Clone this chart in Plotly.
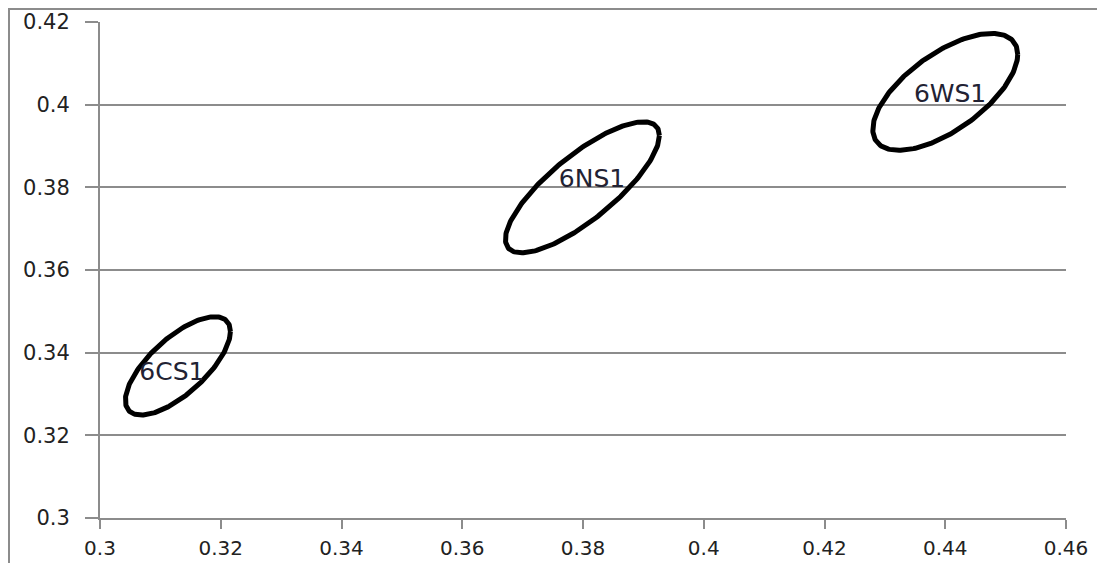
import numpy as np
import plotly.graph_objects as go

# Ellipse groups (data units): centre, half-extent in x and y, phase (tilt) cosine
names = ["6CS1", "6NS1", "6WS1"]
center_x = [0.3129, 0.3799, 0.4400]
center_y = [0.3368, 0.3800, 0.4031]
half_x = [0.0087, 0.01275, 0.0120]
half_y = [0.0119, 0.01585, 0.01415]
tilt_cos = [0.70, 0.79, 0.64]
label_x = [0.3119, 0.3815, 0.4408]
label_y = [0.3350, 0.3815, 0.4021]

x_ticks = [0.3, 0.32, 0.34, 0.36, 0.38, 0.4, 0.42, 0.44, 0.46]
x_tick_text = ["0.3", "0.32", "0.34", "0.36", "0.38", "0.4", "0.42", "0.44", "0.46"]
y_ticks = [0.3, 0.32, 0.34, 0.36, 0.38, 0.4, 0.42]
y_tick_text = ["0.3", "0.32", "0.34", "0.36", "0.38", "0.4", "0.42"]

fig = go.Figure()
t = np.linspace(0, 2 * np.pi, 240)
for n, cx, cy, wx, hy, c in zip(names, center_x, center_y, half_x, half_y, tilt_cos):
    phi = np.arccos(c)
    fig.add_trace(go.Scatter(
        x=cx + wx * np.cos(t), y=cy + hy * np.cos(t - phi),
        mode="lines", line=dict(color="black", width=5),
        hoverinfo="skip", showlegend=False, name=n))

fig.add_trace(go.Scatter(
    x=label_x, y=label_y, mode="text", text=names,
    textfont=dict(family="DejaVu Sans", size=25, color="#222233"),
    showlegend=False, hoverinfo="skip"))

fig.add_shape(type="rect", xref="paper", yref="paper",
              x0=-0.0942, x1=1.05, y0=-0.2, y1=1.026,
              line=dict(color="#8c8c8c", width=2), layer="below")

fig.update_layout(
    width=1089, height=555,
    margin=dict(l=92, r=31, t=14, b=45),
    paper_bgcolor="white", plot_bgcolor="white",
    font=dict(family="DejaVu Sans", size=21, color="#222222"),
    xaxis=dict(range=[0.3, 0.46], tickvals=x_ticks, ticktext=x_tick_text,
               showgrid=False, zeroline=False, showline=True,
               linecolor="#8c8c8c", linewidth=2, ticks="outside",
               ticklen=9, tickwidth=2, tickcolor="#8c8c8c",
               ticklabelstandoff=2, automargin=False,
               tickfont=dict(size=20)),
    yaxis=dict(range=[0.3, 0.42], tickvals=y_ticks, ticktext=y_tick_text,
               showgrid=True, gridcolor="#8c8c8c", gridwidth=1.5,
               zeroline=False, showline=True,
               linecolor="#8c8c8c", linewidth=2, ticks="outside",
               ticklen=13, tickwidth=2, tickcolor="#8c8c8c",
               ticklabelstandoff=11, automargin=False),
)

fig.write_html("out.html")
